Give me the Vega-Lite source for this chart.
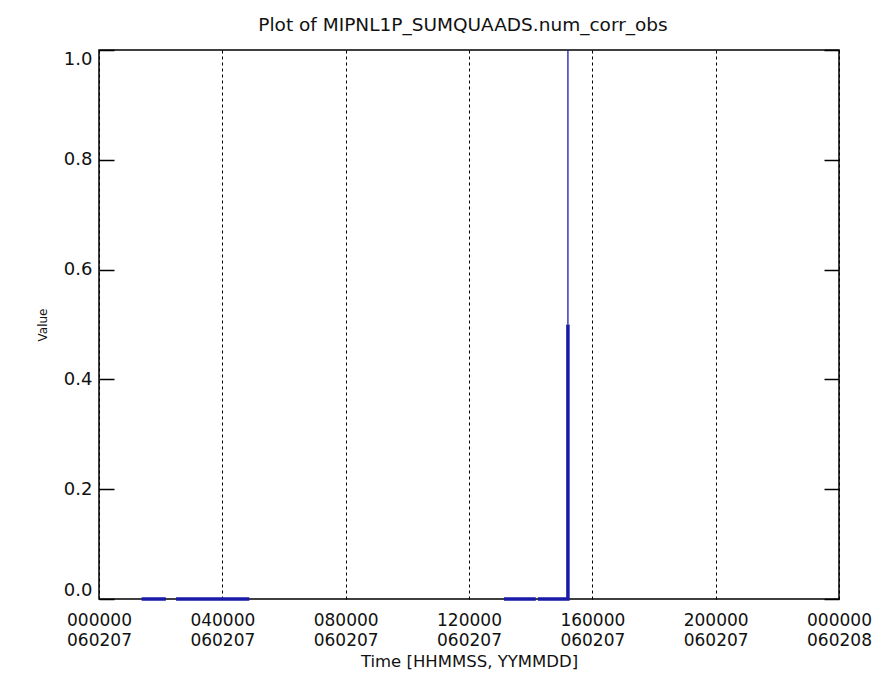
{
  "$schema": "https://vega.github.io/schema/vega-lite/v6.json",
  "width": 740,
  "height": 549,
  "autosize": "none",
  "padding": {"left": 99, "top": 50, "right": 50, "bottom": 99},
  "background": "white",
  "config": {
    "view": {"stroke": "#000", "strokeWidth": 1.5},
    "font": "DejaVu Sans"
  },
  "title": {
    "text": "Plot of MIPNL1P_SUMQUAADS.num_corr_obs",
    "fontSize": 18.5,
    "fontWeight": "normal",
    "font": "DejaVu Sans",
    "color": "#111",
    "offset": 13,
    "anchor": "middle",
    "dx": -6
  },
  "data": {
    "values": [
      {"t": "2006-02-07T01:23:00Z", "v": 0, "seg": "a", "kind": "base", "i": 1},
      {"t": "2006-02-07T02:10:00Z", "v": 0, "seg": "a", "kind": "base", "i": 2},
      {"t": "2006-02-07T02:30:00Z", "v": 0, "seg": "b", "kind": "base", "i": 3},
      {"t": "2006-02-07T04:52:30Z", "v": 0, "seg": "b", "kind": "base", "i": 4},
      {"t": "2006-02-07T13:08:00Z", "v": 0, "seg": "c", "kind": "base", "i": 5},
      {"t": "2006-02-07T14:10:00Z", "v": 0, "seg": "c", "kind": "base", "i": 6},
      {"t": "2006-02-07T14:14:00Z", "v": 0, "seg": "d", "kind": "base", "i": 7},
      {"t": "2006-02-07T15:12:30Z", "v": 0, "seg": "d", "kind": "base", "i": 8},
      {"t": "2006-02-07T15:12:30Z", "v": 0.5, "seg": "d", "kind": "base", "i": 9},
      {"t": "2006-02-07T15:12:30Z", "v": 0.5, "seg": "e", "kind": "spike", "i": 10},
      {"t": "2006-02-07T15:12:30Z", "v": 1.0, "seg": "e", "kind": "spike", "i": 11}
    ]
  },
  "encoding": {
    "x": {
      "field": "t",
      "type": "temporal",
      "scale": {
        "type": "utc",
        "domain": [
          {"year": 2006, "month": 2, "date": 7, "hours": 0, "utc": true},
          {"year": 2006, "month": 2, "date": 8, "hours": 0, "utc": true}
        ]
      },
      "axis": {
        "title": "Time [HHMMSS, YYMMDD]",
        "values": [
          {"year": 2006, "month": 2, "date": 7, "hours": 0, "utc": true},
          {"year": 2006, "month": 2, "date": 7, "hours": 4, "utc": true},
          {"year": 2006, "month": 2, "date": 7, "hours": 8, "utc": true},
          {"year": 2006, "month": 2, "date": 7, "hours": 12, "utc": true},
          {"year": 2006, "month": 2, "date": 7, "hours": 16, "utc": true},
          {"year": 2006, "month": 2, "date": 7, "hours": 20, "utc": true},
          {"year": 2006, "month": 2, "date": 8, "hours": 0, "utc": true}
        ],
        "labelExpr": "[utcFormat(datum.value, '%H%M%S'), utcFormat(datum.value, '%y%m%d')]",
        "ticks": false,
        "domain": false,
        "grid": true,
        "gridColor": "#000",
        "gridDash": [3, 3],
        "gridWidth": 1,
        "gridOpacity": 1,
        "labelFontSize": 17,
        "labelColor": "#111",
        "labelPadding": 13,
        "labelLineHeight": 20,
        "labelFlush": false,
        "labelOverlap": false,
        "titleFontSize": 16.5,
        "titleFontWeight": "normal",
        "titleColor": "#111",
        "titlePadding": 5
      }
    },
    "y": {
      "field": "v",
      "type": "quantitative",
      "scale": {"domain": [0, 1], "nice": false, "zero": false}
    },
    "detail": {"field": "seg"},
    "order": {"field": "i"}
  },
  "layer": [
    {
      "transform": [{"filter": "datum.kind === 'spike'"}],
      "mark": {"type": "line", "color": "#1a1aa8", "strokeWidth": 1.3, "clip": false},
      "encoding": {
        "y": {
          "field": "v",
          "type": "quantitative",
          "scale": {"domain": [0, 1], "nice": false, "zero": false},
          "axis": {
            "title": "Value",
            "orient": "left",
            "values": [0, 0.2, 0.4, 0.6, 0.8, 1.0],
            "format": ".1f",
            "tickSize": -15,
            "tickColor": "#000",
            "tickWidth": 1.5,
            "domain": false,
            "grid": false,
            "labelFontSize": 18,
            "labelColor": "#111",
            "labelPadding": 22,
            "labelFlush": true,
            "titleFontSize": 12,
            "titleFontWeight": "normal",
            "titleColor": "#111",
            "titlePadding": 14
          }
        }
      }
    },
    {
      "transform": [{"filter": "datum.kind === 'base'"}],
      "mark": {"type": "line", "color": "#1a1aa8", "strokeWidth": 3.5, "clip": false},
      "encoding": {
        "y": {
          "field": "v",
          "type": "quantitative",
          "scale": {"domain": [0, 1], "nice": false, "zero": false},
          "axis": {
            "title": null,
            "orient": "right",
            "values": [0, 0.2, 0.4, 0.6, 0.8, 1.0],
            "labels": false,
            "tickSize": -15,
            "tickColor": "#000",
            "tickWidth": 1.5,
            "domain": false,
            "grid": false
          }
        }
      }
    }
  ],
  "resolve": {"scale": {"y": "independent"}, "axis": {"y": "independent"}}
}
